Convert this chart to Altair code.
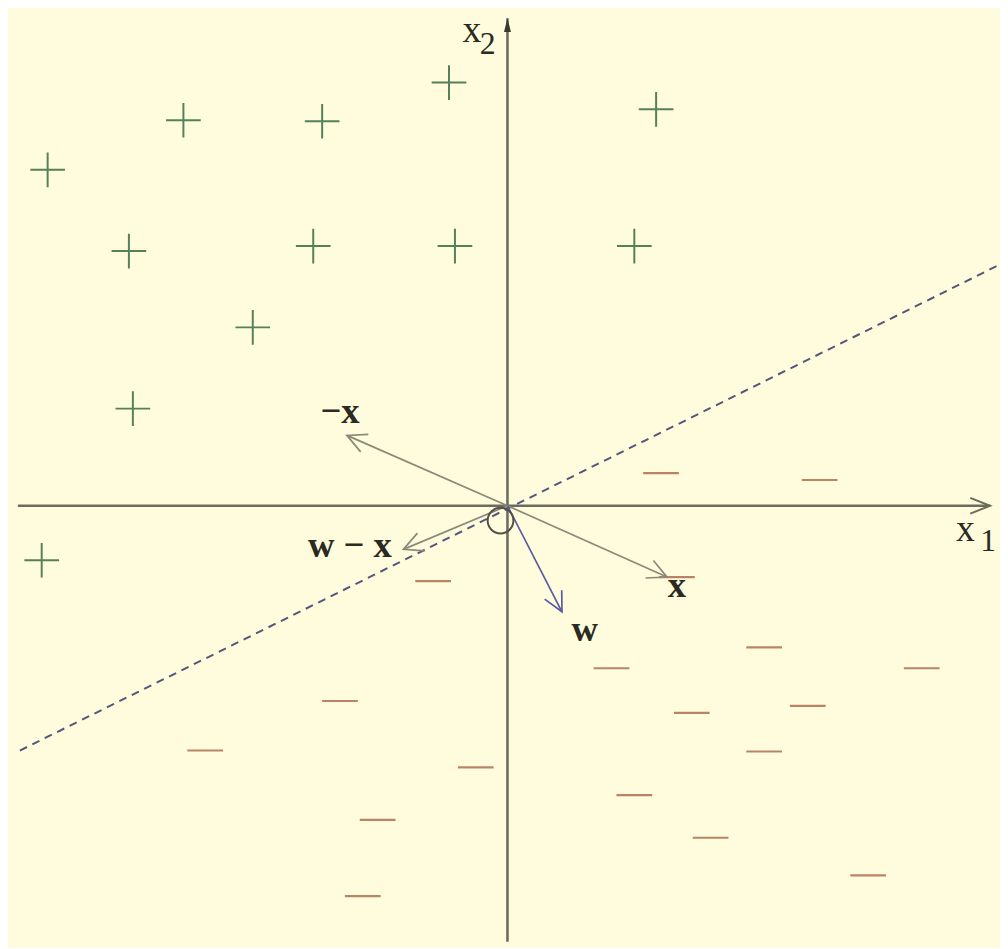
import math
import altair as alt
import pandas as pd

# ---- data (units: arbitrary, origin at axes crossing) ----
plus_u = [-9.28, -6.54, -3.74, -1.18, 3.00, -7.64, -3.92, -1.06, 2.56, -5.14, -7.56, -9.40]
plus_v = [6.78, 7.78, 7.76, 8.54, 8.00, 5.14, 5.24, 5.24, 5.24, 3.60, 1.96, -1.10]

minus_u = [3.10, 6.30, -1.50, 3.42, 5.18, 2.10, 8.36, -3.38, 3.72, 6.06, -6.10, 5.18,
           -0.64, 2.56, -2.62, 4.10, 7.28, -2.92]
minus_v = [0.66, 0.52, -1.52, -1.44, -2.86, -3.28, -3.28, -3.94, -4.18, -4.04, -4.94, -4.96,
           -5.28, -5.84, -6.34, -6.70, -7.46, -7.88]

vec_names = ["-x", "x", "w", "w-x"]
vec_u = [-3.24, 3.22, 1.10, -2.10]
vec_v = [1.42, -1.44, -2.14, -0.88]
vec_colors = ["#8a8a78", "#8a8a78", "#5a5aa0", "#8a8a78"]

label_text = ["\u2212x", "w \u2212 x", "w", "x"]
label_u = [-3.38, -3.18, 1.56, 3.42]
label_v = [1.88, -0.82, -2.50, -1.62]

boundary_u = [-9.84, 9.92]
boundary_v = [-4.94, 4.86]

xaxis_u = [-9.88, 9.74]
yaxis_v = [-8.80, 9.84]

axis_main = ["x", "x"]
axis_sub = ["2", "1"]
axis_main_u = [-0.72, 9.24]
axis_main_v = [9.58, -0.50]
axis_sub_u = [-0.40, 9.70]
axis_sub_v = [9.32, -0.72]

cursor_u = [-0.14]
cursor_v = [-0.30]

X_DOMAIN = [-10.08, 9.76]
Y_DOMAIN = [-8.46, 9.94]
W, H = 992, 920

BG = "#fefcdd"
AXIS_COLOR = "#6c6c5e"
TEXT_COLOR = "#2a2a22"
SERIF = "Liberation Serif"

xs = alt.Scale(domain=X_DOMAIN, nice=False, zero=False)
ys = alt.Scale(domain=Y_DOMAIN, nice=False, zero=False)


def X(f):
    return alt.X(f, type="quantitative", scale=xs, axis=None)


def Y(f):
    return alt.Y(f, type="quantitative", scale=ys, axis=None)


def ang(du, dv):
    return (-math.degrees(math.atan2(dv, du))) % 360


# ---- tables ----
plus_df = pd.DataFrame({"u": plus_u, "v": plus_v})
minus_df = pd.DataFrame({"u": minus_u, "v": minus_v})
vec_df = pd.DataFrame({
    "name": vec_names, "u0": [0.0] * 4, "v0": [0.0] * 4,
    "u": vec_u, "v": vec_v, "col": vec_colors,
    "ang": [ang(a, b) for a, b in zip(vec_u, vec_v)],
})
lab_df = pd.DataFrame({"t": label_text, "u": label_u, "v": label_v})
bnd_df = pd.DataFrame({"u": [boundary_u[0]], "v": [boundary_v[0]],
                       "u2": [boundary_u[1]], "v2": [boundary_v[1]]})
xax_df = pd.DataFrame({"u": [xaxis_u[0]], "u2": [xaxis_u[1]], "v": [0.0]})
yax_df = pd.DataFrame({"v": [yaxis_v[0]], "v2": [yaxis_v[1]], "u": [0.0]})
xhead_df = pd.DataFrame({"u": [xaxis_u[1]], "v": [0.0]})
yhead_df = pd.DataFrame({"u": [0.0], "v": [yaxis_v[1]]})
amain_df = pd.DataFrame({"t": axis_main, "u": axis_main_u, "v": axis_main_v})
asub_df = pd.DataFrame({"t": axis_sub, "u": axis_sub_u, "v": axis_sub_v})
cur_df = pd.DataFrame({"u": cursor_u, "v": cursor_v})

# ---- layers ----
boundary = alt.Chart(bnd_df).mark_rule(
    color="#55557a", strokeWidth=2, strokeDash=[8, 6]
).encode(x=X("u"), y=Y("v"), x2="u2", y2="v2")

x_axis = alt.Chart(xax_df).mark_rule(color=AXIS_COLOR, strokeWidth=2.6).encode(
    x=X("u"), x2="u2", y=Y("v"))
y_axis = alt.Chart(yax_df).mark_rule(color=AXIS_COLOR, strokeWidth=2.6).encode(
    y=Y("v"), y2="v2", x=X("u"))

x_head = alt.Chart(xhead_df).mark_point(
    shape="M -1 -0.4 L 0 0 L -1 0.4", filled=False, size=1600,
    stroke=AXIS_COLOR, strokeWidth=2, opacity=1, angle=0
).encode(x=X("u"), y=Y("v"))

y_head = alt.Chart(yhead_df).mark_point(
    shape="M 0 0 L -1 -0.25 L -1 0.25 Z", filled=True, size=784,
    fill="#3a3a30", opacity=1, angle=270
).encode(x=X("u"), y=Y("v"))

pluses = alt.Chart(plus_df).mark_point(
    shape="M -1 0 L 1 0 M 0 -1 L 0 1", filled=False, size=1225,
    stroke="#55805a", strokeWidth=2, opacity=1
).encode(x=X("u"), y=Y("v"))

minuses = alt.Chart(minus_df).mark_point(
    shape="M -1 0 L 1 0", filled=False, size=1300,
    stroke="#b98466", strokeWidth=2.2, opacity=1
).encode(x=X("u"), y=Y("v"))

vec_lines = alt.Chart(vec_df).mark_rule(strokeWidth=1.7).encode(
    x=X("u0"), y=Y("v0"), x2="u", y2="v",
    color=alt.Color("col:N", scale=None))

vec_heads = alt.Chart(vec_df).mark_point(
    shape="M -1 -0.5 L 0 0 L -1 0.5", filled=False, size=1500,
    strokeWidth=1.7, opacity=1
).encode(x=X("u"), y=Y("v"),
         stroke=alt.Stroke("col:N", scale=None),
         angle=alt.Angle("ang:Q", scale=None))

labels = alt.Chart(lab_df).mark_text(
    font=SERIF, fontSize=37, fontWeight="bold", color=TEXT_COLOR,
    align="center", baseline="middle"
).encode(x=X("u"), y=Y("v"), text="t:N")

axis_main_t = alt.Chart(amain_df).mark_text(
    font=SERIF, fontSize=38, color=TEXT_COLOR, align="center", baseline="middle"
).encode(x=X("u"), y=Y("v"), text="t:N")

axis_sub_t = alt.Chart(asub_df).mark_text(
    font=SERIF, fontSize=32, color=TEXT_COLOR, align="center", baseline="middle"
).encode(x=X("u"), y=Y("v"), text="t:N")

cursor = alt.Chart(cur_df).mark_point(
    shape="circle", filled=False, size=676, stroke="#505048", strokeWidth=2, opacity=1
).encode(x=X("u"), y=Y("v"))

chart = alt.layer(
    boundary, x_axis, y_axis, x_head, y_head, pluses, minuses,
    vec_lines, vec_heads, cursor, labels, axis_main_t, axis_sub_t
).properties(
    width=W, height=H, padding=0, background=BG
).configure_view(stroke=None)

chart.save("out.html", embed_options={"renderer": "svg", "actions": False})
